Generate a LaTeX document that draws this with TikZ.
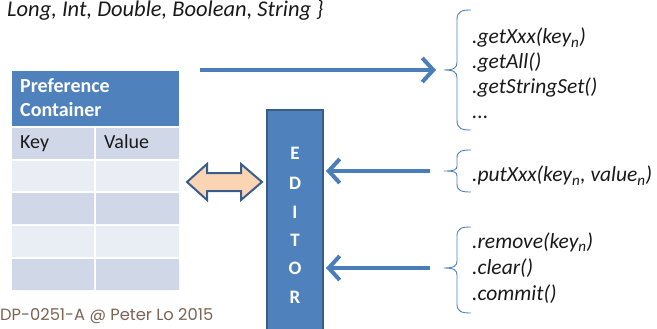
\documentclass[tikz,border=0pt]{standalone}
\usepackage{fontspec}
\setmainfont{Carlito}
\newfontfamily\footfont{Poppins}
\usetikzlibrary{arrows.meta}
\definecolor{hdrblue}{HTML}{4F81BD}
\definecolor{arrblue}{HTML}{4A7EBB}
\definecolor{edgeblue}{HTML}{385D8A}
\definecolor{rowdark}{HTML}{D0D8E8}
\definecolor{rowlight}{HTML}{E9EDF4}
\definecolor{peach}{HTML}{FBD4B4}
\definecolor{footbrown}{HTML}{7B6454}
\definecolor{txt}{HTML}{1A1A1A}
\tikzset{
  bigarrow/.style={draw=arrblue,line width=4pt,-{Straight Barb[length=11pt,width=24pt]}},
  brace/.style={draw=hdrblue,line width=0.9pt},
  mtext/.style={font=\fontsize{21.5}{25}\selectfont\itshape,text=txt,anchor=base west,inner sep=0},
  tabtext/.style={font=\fontsize{20}{24}\selectfont,text=txt,anchor=base west,inner sep=0},
  hdrtext/.style={font=\fontsize{20}{24}\selectfont\bfseries,text=white,anchor=base west,inner sep=0},
  edl/.style={font=\fontsize{19}{20}\selectfont\bfseries,text=white,inner sep=0}
}
\begin{document}
\begin{tikzpicture}[x=1pt,y=-1pt]
\useasboundingbox (0,0) rectangle (657,329);
% top text
\node[mtext,font=\fontsize{22.5}{25}\selectfont\itshape] (types) at (7,17) {Long, Int, Double, Boolean, String \}};
% table
\fill[hdrblue] (12,71) rectangle (179,126);
\node[hdrtext] (hdrA) at (20,93) {Preference};
\node[hdrtext] (hdrB) at (20,117) {Container};
\fill[rowdark] (12,128) rectangle (94,159) (96,128) rectangle (179,159);
\fill[rowlight] (12,161) rectangle (94,191) (96,161) rectangle (179,191);
\fill[rowdark] (12,193) rectangle (94,224) (96,193) rectangle (179,224);
\fill[rowlight] (12,226) rectangle (94,257) (96,226) rectangle (179,257);
\fill[rowdark] (12,259) rectangle (94,290) (96,259) rectangle (179,290);
\node[tabtext] (key) at (20,149) {Key};
\node[tabtext] (val) at (104,149) {Value};
% footer
\node[font=\footfont\fontsize{16.3}{18}\selectfont,text=footbrown,anchor=base west,inner sep=0] (foot) at (0,320) {DP-0251-A @ Peter Lo 2015};
% double arrow
\coordinate (dblL) at (187,182);
\coordinate (dblR) at (262,182);
\draw[draw=edgeblue,line width=2pt,fill=peach,line join=miter]
  (dblL) -- (207,164) -- (207,173) -- (241,173) -- (241,164) -- (dblR)
  -- (241,200) -- (241,191) -- (207,191) -- (207,200) -- cycle;
% editor
\draw[fill=hdrblue,draw=edgeblue,line width=1.5pt] (267,110) rectangle (323,335);
\coordinate (edR2) at (326,171);
\coordinate (edR3) at (326,268);
\node[edl] (e1) at (295,153) {E};
\node[edl] (e2) at (295,183) {D};
\node[edl] (e3) at (295,212) {I};
\node[edl] (e4) at (295,240) {T};
\node[edl] (e5) at (295,268) {O};
\node[edl] (e6) at (295,297) {R};
% braces
\coordinate (b1) at (444,70);
\coordinate (b2) at (444,171);
\coordinate (b3) at (444,268);
\draw[brace] (471,10) .. controls (462,10) and (457,11) .. (457,20) -- (457,62) .. controls (457,68) and (454,70) .. (b1)
  .. controls (454,70) and (457,72) .. (457,78) -- (457,120) .. controls (457,129) and (462,130) .. (471,130);
\draw[brace] (471,150) .. controls (462,150) and (457,151) .. (457,158) -- (457,166) .. controls (457,170) and (454,171) .. (b2)
  .. controls (454,171) and (457,172) .. (457,176) -- (457,184) .. controls (457,191) and (462,192) .. (471,192);
\draw[brace] (471,227) .. controls (462,227) and (457,228) .. (457,236) -- (457,261) .. controls (457,266) and (454,268) .. (b3)
  .. controls (454,268) and (457,270) .. (457,275) -- (457,304) .. controls (457,312) and (462,313) .. (471,313);
% arrows
\coordinate (a1s) at (200,70);
\coordinate (a1e) at (436,70);
\coordinate (a2s) at (430,171);
\coordinate (a3s) at (430,268);
\draw[bigarrow] (a1s) -- (a1e);
\draw[bigarrow] (a2s) -- (edR2);
\draw[bigarrow] (a3s) -- (edR3);
% method texts
\node[mtext] (g1) at (472,44) {.getXxx(key\textsubscript{n})};
\node[mtext] (g2) at (472,69) {.getAll()};
\node[mtext] (g3) at (472,94) {.getStringSet()};
\node[mtext] (g4) at (472,119) {...};
\node[mtext] (p1) at (472,182) {.putXxx(key\textsubscript{n}, value\textsubscript{n})};
\node[mtext] (r1) at (472,248) {.remove(key\textsubscript{n})};
\node[mtext] (r2) at (472,274) {.clear()};
\node[mtext] (r3) at (472,300) {.commit()};
\end{tikzpicture}
\end{document}
